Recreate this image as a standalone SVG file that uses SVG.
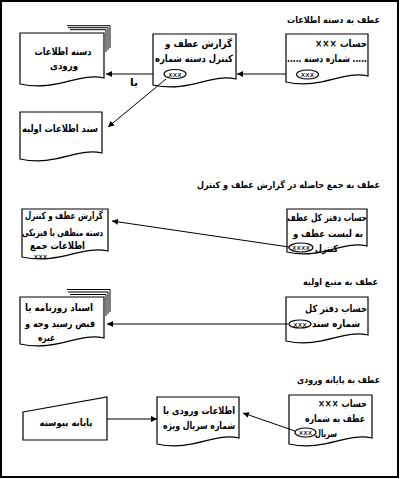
<svg xmlns="http://www.w3.org/2000/svg" width="400" height="479" viewBox="0 0 400 479">
<style>
.shape{fill:#fff;stroke:#000;stroke-width:1.2}
.back{fill:none;stroke:#000;stroke-width:1}
.el{fill:#fff;stroke:#000;stroke-width:1.2}
.t{font-family:"DejaVu Sans",sans-serif;font-weight:bold;font-size:10px;fill:#000;direction:rtl;text-anchor:middle}
.ti{font-family:"DejaVu Sans",sans-serif;font-weight:bold;font-size:9px;fill:#000;direction:rtl;text-anchor:middle}
.x{font-family:"DejaVu Sans",sans-serif;font-size:7.5px;fill:#000;text-anchor:middle}
.conn{fill:none;stroke:#000;stroke-width:1}
</style>
<defs>
<marker id="ah" markerUnits="userSpaceOnUse" markerWidth="7" markerHeight="6" refX="6" refY="3" orient="auto">
<path d="M0,0 L6,3 L0,6 Z" fill="#000"/>
</marker>
</defs>
<rect x="1" y="1" width="397" height="476" fill="#fff" stroke="#000" stroke-width="2"/>

<text class="ti" x="333.5" y="23" textLength="93" lengthAdjust="spacingAndGlyphs">عطف به دسته اطلاعات</text>
<text class="ti" x="288.5" y="188" textLength="183" lengthAdjust="spacingAndGlyphs">عطف به جمع حاصله در گزارش عطف و کنترل</text>
<text class="ti" x="340.5" y="285" textLength="75" lengthAdjust="spacingAndGlyphs">عطف به منبع اولیه</text>
<text class="ti" x="338.5" y="383" textLength="83" lengthAdjust="spacingAndGlyphs">عطف به پایانه ورودی</text>

<g id="n1">
<path class="back" d="M67,25.7 H110 V48"/>
<path class="back" d="M68,27.7 H108 V50"/>
<path class="back" d="M70,29.7 H106 V52"/>
<path class="shape" d="M20,33 H104 V78 C79,72 57,92 20,84 Z"/>
<text class="t" x="63" y="55" textLength="57" lengthAdjust="spacingAndGlyphs">دسته اطلاعات</text>
<text class="t" x="64" y="69" textLength="28" lengthAdjust="spacingAndGlyphs">ورودی</text>
</g>

<g id="n2">
<path class="shape" d="M153,34 H236 V79 C211,73 190,93 153,85 Z"/>
<text class="t" x="198.5" y="47" textLength="67" lengthAdjust="spacingAndGlyphs">گزارش عطف و</text>
<text class="t" x="194" y="62" textLength="78" lengthAdjust="spacingAndGlyphs">کنترل دسته شماره</text>
<ellipse class="el" cx="175" cy="74" rx="11" ry="4.5"/>
<text class="x" x="175" y="76.5">xxx</text>
</g>

<g id="n3">
<path class="shape" d="M286,34 H368 V76 C343,70 322,90 286,82 Z"/>
<text class="t" x="341" y="47" textLength="52" lengthAdjust="spacingAndGlyphs">حساب ×××</text>
<text class="t" x="327" y="62" textLength="80" lengthAdjust="spacingAndGlyphs">..... شماره دسته .....</text>
<ellipse class="el" cx="307.5" cy="74.5" rx="11" ry="4.5"/>
<text class="x" x="307.5" y="77">xxx</text>
</g>

<g id="n4">
<path class="shape" d="M20,112 H102 V153 C77,147 56,167 20,159 Z"/>
<text class="t" x="60" y="132" textLength="76" lengthAdjust="spacingAndGlyphs">سند اطلاعات اولیه</text>
</g>

<g id="n5">
<path class="shape" d="M22,209 H108 V251 C82,245 60,265 22,257 Z"/>
<text class="t" x="64" y="219" textLength="78" lengthAdjust="spacingAndGlyphs">گزارش عطف و کنترل</text>
<text class="t" x="62.5" y="235.5" textLength="81" lengthAdjust="spacingAndGlyphs">دسته منطقی یا فیزیکی</text>
<text class="t" x="57.5" y="249" textLength="55" lengthAdjust="spacingAndGlyphs">اطلاعات جمع</text>
<text class="x" x="40.5" y="259">xxx</text>
</g>

<g id="n6">
<path class="shape" d="M287,209 H367 V246 C343,240 322,260 287,252 Z"/>
<text class="t" x="327" y="221" textLength="80" lengthAdjust="spacingAndGlyphs">حساب دفتر کل عطف</text>
<text class="t" x="328" y="237" textLength="70" lengthAdjust="spacingAndGlyphs">به لیست عطف و</text>
<text class="t" x="326.5" y="252" textLength="23" lengthAdjust="spacingAndGlyphs">کنترل</text>
<ellipse class="el" cx="301" cy="247.5" rx="12" ry="4.5"/>
<text class="x" x="301" y="250">xxxx</text>
</g>

<g id="n7">
<path class="back" d="M67,289.5 H110 V312"/>
<path class="back" d="M68,292 H108 V314"/>
<path class="back" d="M70,294.5 H106 V316"/>
<path class="shape" d="M20,297 H104 V338 C79,332 57,352 20,344 Z"/>
<text class="t" x="59" y="311" textLength="68" lengthAdjust="spacingAndGlyphs">اسناد روزنامه یا</text>
<text class="t" x="60" y="327" textLength="70" lengthAdjust="spacingAndGlyphs">قبض رسید وجه و</text>
<text class="t" x="46.5" y="341" textLength="17" lengthAdjust="spacingAndGlyphs">غیره</text>
</g>

<g id="n8">
<path class="shape" d="M286,297 H368 V335 C343,329 322,349 286,341 Z"/>
<text class="t" x="336" y="312" textLength="62" lengthAdjust="spacingAndGlyphs">حساب دفتر کل</text>
<text class="t" x="336" y="327" textLength="48" lengthAdjust="spacingAndGlyphs">شماره سند</text>
<ellipse class="el" cx="300" cy="324" rx="11" ry="4"/>
<text class="x" x="300" y="326.5">xxx</text>
</g>

<g id="n9">
<path class="shape" d="M23,412 L107,397 V440 H23 Z"/>
<text class="t" x="66" y="426" textLength="53" lengthAdjust="spacingAndGlyphs">پایانه پیوسته</text>
</g>

<g id="n10">
<path class="shape" d="M157,397 H239 V438 C214,432 193,452 157,444 Z"/>
<text class="t" x="199" y="414" textLength="72" lengthAdjust="spacingAndGlyphs">اطلاعات ورودی با</text>
<text class="t" x="199" y="429" textLength="72" lengthAdjust="spacingAndGlyphs">شماره سریال ویژه</text>
</g>

<g id="n11">
<path class="shape" d="M289,395 H372 V438 C347,432 325,452 289,444 Z"/>
<text class="t" x="342.5" y="407" textLength="49" lengthAdjust="spacingAndGlyphs">حساب ×××</text>
<text class="t" x="335" y="422" textLength="60" lengthAdjust="spacingAndGlyphs">عطف به شماره</text>
<text class="t" x="326" y="437" textLength="22" lengthAdjust="spacingAndGlyphs">سریال</text>
<ellipse class="el" cx="305.5" cy="432.5" rx="10.5" ry="4.5"/>
<text class="x" x="305.5" y="435">xxx</text>
</g>

<g id="connectors">
<path class="conn" d="M286,74 L237,74" marker-end="url(#ah)"/>
<path class="conn" d="M153,74 L106,74" marker-end="url(#ah)"/>
<path class="conn" d="M166,79 L108,127" marker-end="url(#ah)"/>
<path class="conn" d="M289,247 L112,221" marker-end="url(#ah)"/>
<path class="conn" d="M288,324 L107,324" marker-end="url(#ah)"/>
<path class="conn" d="M107,419 L157,419" marker-end="url(#ah)"/>
<path class="conn" d="M295,431 L243,413" marker-end="url(#ah)"/>
<text class="t" x="134" y="86" textLength="8" lengthAdjust="spacingAndGlyphs">یا</text>
</g>
</svg>
